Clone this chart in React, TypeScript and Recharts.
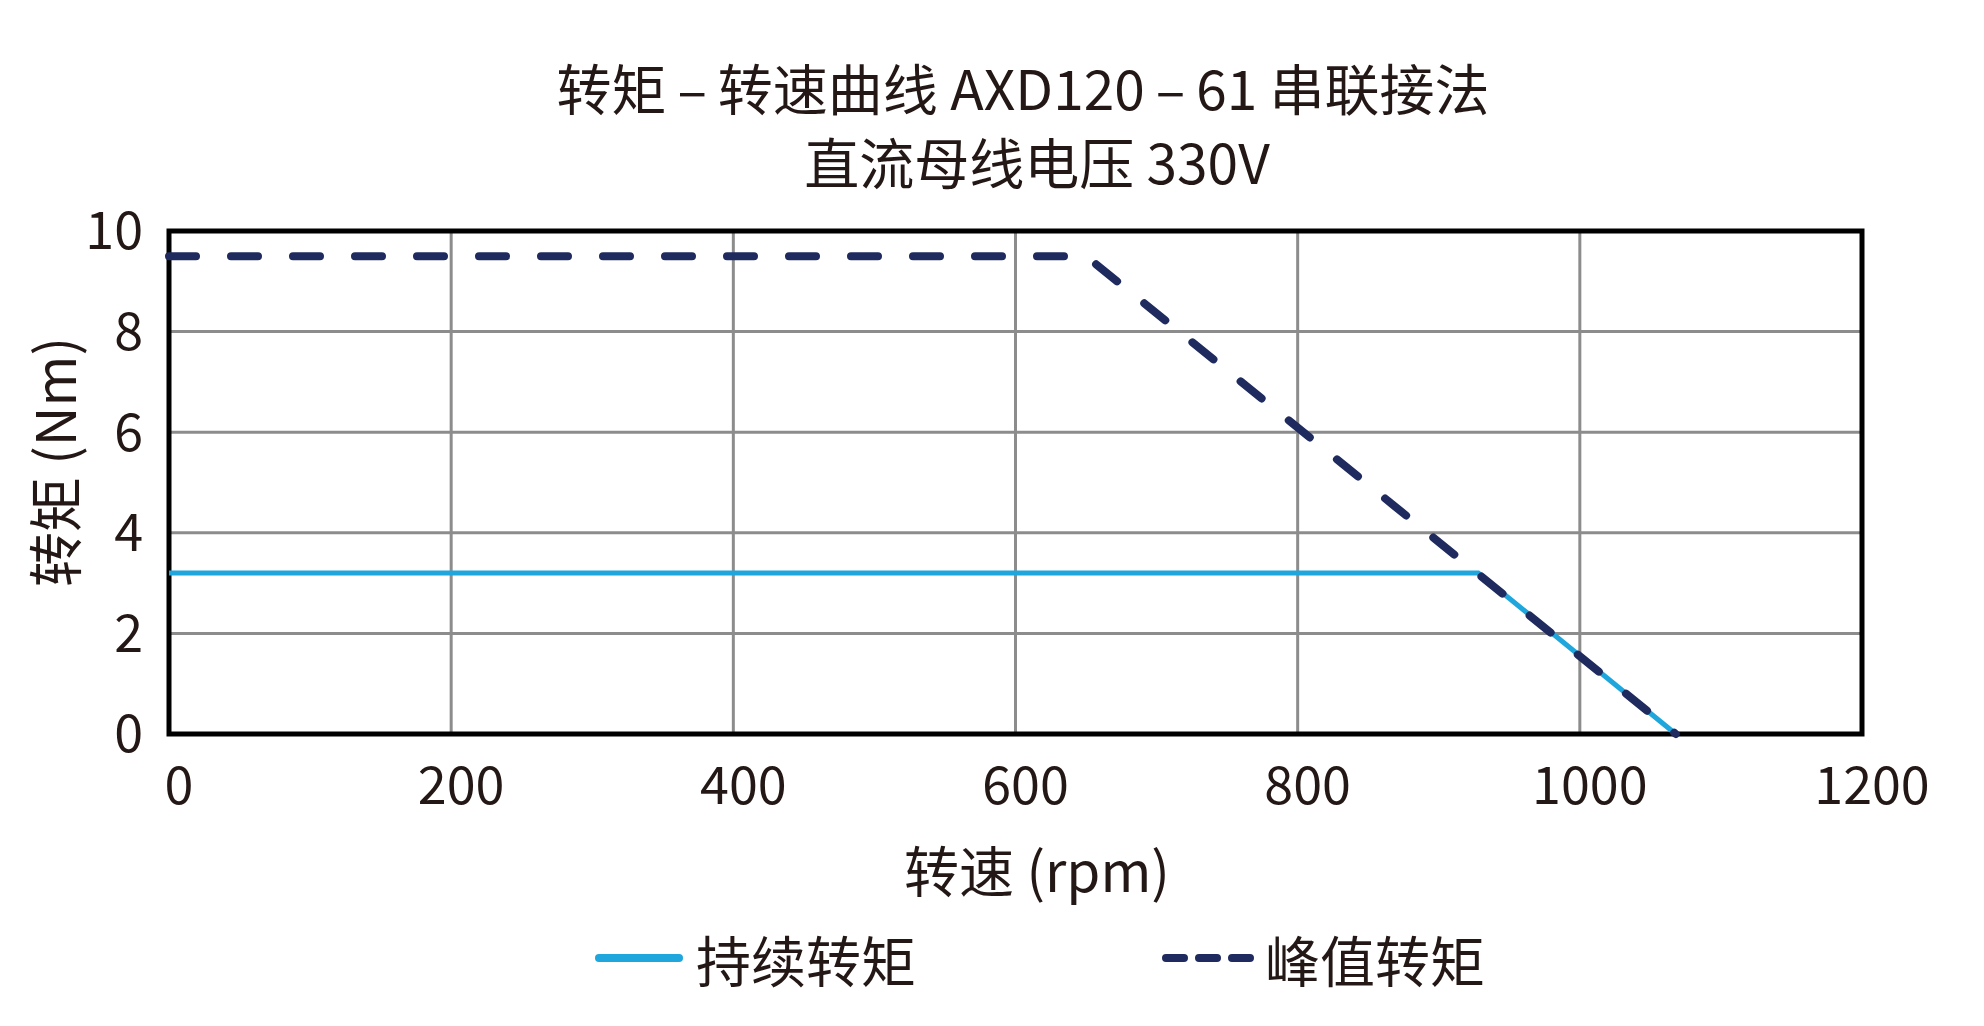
import { LineChart, Line, XAxis, YAxis, CartesianGrid, ReferenceArea } from "recharts";

// ─── Data
const speedTicks = [0, 200, 400, 600, 800, 1000, 1200];
const torqueTicks = [0, 2, 4, 6, 8, 10];

const continuousSpeed = [0, 928, 1068];
const continuousTorque = [3.2, 3.2, 0];

const peakSpeed = [0, 650, 1068];
const peakTorque = [9.5, 9.5, 0];

const titleLines = ["转矩\u2009–\u2009转速曲线 AXD120\u2009–\u200961 串联接法", "直流母线电压 330V"];
const xLabel = "转速 (rpm)";
const yLabel = "转矩 (Nm)";
const seriesNames = ["持续转矩", "峰值转矩"];

const continuousData = continuousSpeed.map((s, i) => ({ speed: s, torque: continuousTorque[i] }));
const peakData = peakSpeed.map((s, i) => ({ speed: s, torque: peakTorque[i] }));

const FONT = '"Noto Sans CJK SC", "Noto Sans", sans-serif';
const INK = "#231815";
const BLUE = "#1fa6dc";
const NAVY = "#1f2b5e";

const textStyle = (x: number, y: number, extra?: React.CSSProperties): React.CSSProperties => ({
  position: "absolute",
  left: x,
  top: y,
  transform: "translate(-50%, -50%)",
  whiteSpace: "nowrap",
  fontFamily: FONT,
  fontSize: 55,
  lineHeight: 1,
  color: INK,
  ...extra,
});

export default function App() {
  const tick = { fontSize: 52, fill: INK, fontFamily: FONT };
  return (
    <div style={{ position: "absolute", top: 0, left: 0, width: 1984, height: 1026, background: "#fff" }}>
      <LineChart
        width={1984}
        height={1026}
        margin={{ top: 231, right: 122, bottom: 232, left: 89 }}
      >
        <CartesianGrid stroke="#8c8c8c" strokeWidth={3} />
        <XAxis
          dataKey="speed"
          type="number"
          domain={[0, 1200]}
          ticks={speedTicks}
          height={60}
          tick={{ ...tick, dx: 10 }}
          tickLine={false}
          axisLine={false}
          tickSize={0}
          tickMargin={33}
          interval={0}
          allowDuplicatedCategory={false}
        />
        <YAxis
          type="number"
          domain={[0, 10]}
          ticks={torqueTicks}
          width={80}
          tick={tick}
          tickLine={false}
          axisLine={false}
          tickSize={0}
          tickMargin={26}
          interval={0}
        />
        <ReferenceArea x1={0} x2={1200} y1={0} y2={10} fill="none" stroke="#000" strokeWidth={5} fillOpacity={0} />
        <Line
          data={continuousData}
          dataKey="torque"
          type="linear"
          stroke={BLUE}
          strokeWidth={5}
          dot={false}
          activeDot={false}
          isAnimationActive={false}
        />
        <Line
          data={peakData}
          dataKey="torque"
          type="linear"
          stroke={NAVY}
          strokeWidth={8}
          strokeDasharray="27 35"
          strokeLinecap="round"
          dot={false}
          activeDot={false}
          isAnimationActive={false}
        />
      </LineChart>

      {/* titles and axis labels */}
      <div style={textStyle(1023, 86)}>{titleLines[0]}</div>
      <div style={textStyle(1037, 160)}>{titleLines[1]}</div>
      <div style={textStyle(1037, 868)}>{xLabel}</div>
      <div style={textStyle(52, 462, { transform: "translate(-50%, -50%) rotate(-90deg)" })}>{yLabel}</div>

      {/* legend */}
      <svg style={{ position: "absolute", left: 0, top: 0 }} width={1984} height={1026} pointerEvents="none">
        <line x1={599} y1={958} x2={679} y2={958} stroke={BLUE} strokeWidth={8} strokeLinecap="round" />
        <line
          x1={1166}
          y1={958}
          x2={1250}
          y2={958}
          stroke={NAVY}
          strokeWidth={8}
          strokeLinecap="round"
          strokeDasharray="18 15"
        />
      </svg>
      <div style={textStyle(696, 958, { transform: "translate(0, -50%)" })}>{seriesNames[0]}</div>
      <div style={textStyle(1265, 958, { transform: "translate(0, -50%)" })}>{seriesNames[1]}</div>
    </div>
  );
}
